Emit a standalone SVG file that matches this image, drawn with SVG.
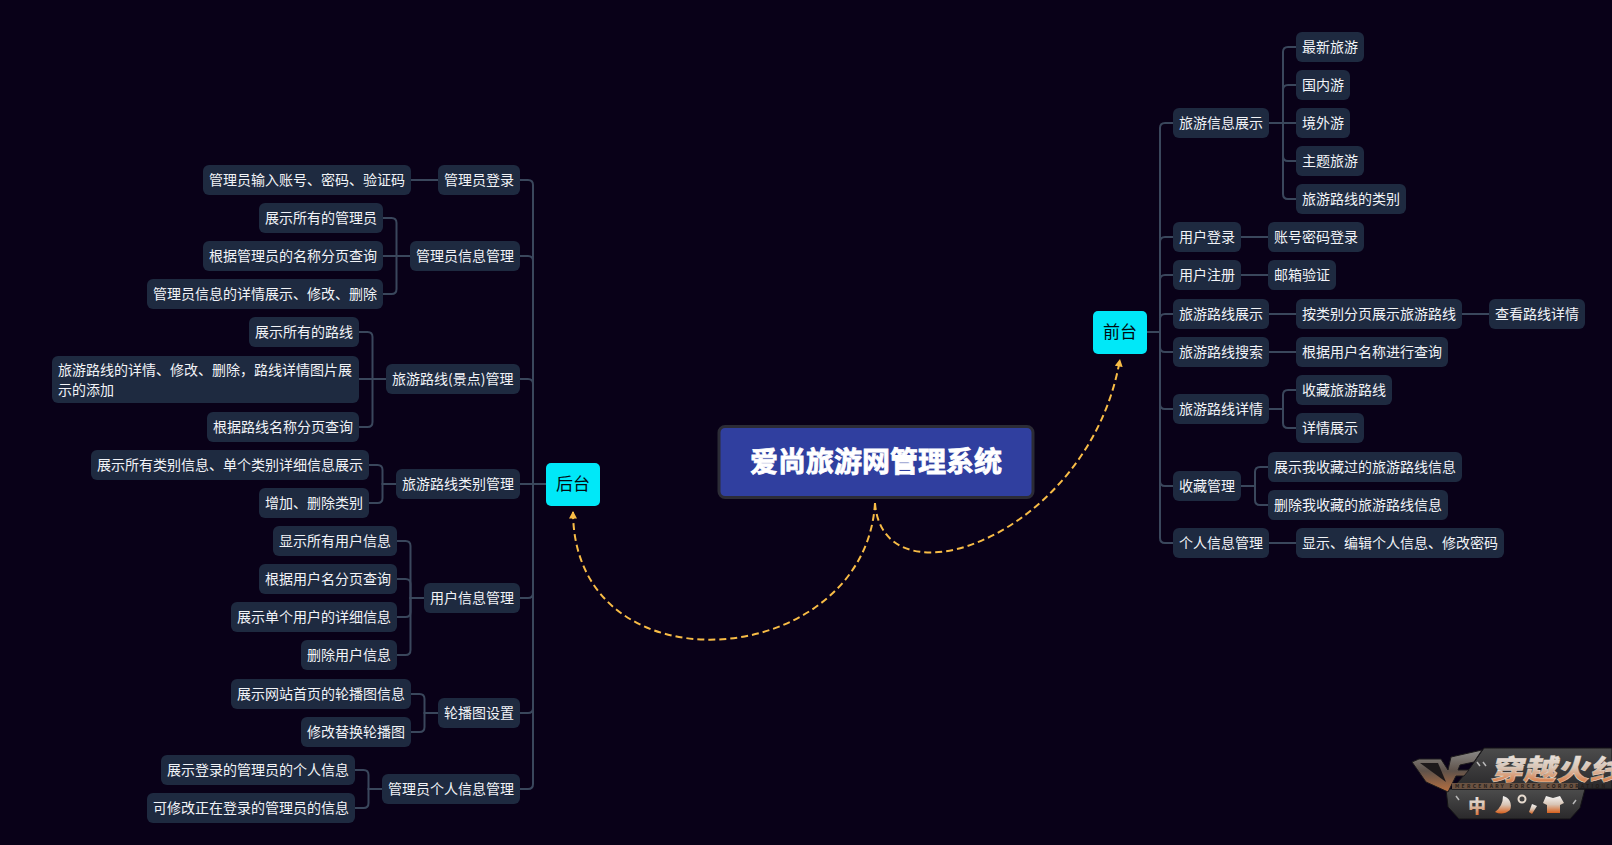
<svg xmlns="http://www.w3.org/2000/svg" width="1612" height="845" viewBox="0 0 1612 845">
<style>
text{font-family:"Noto Sans CJK SC","Microsoft YaHei","Liberation Sans",sans-serif;font-size:14px;fill:#f1f3f7}
.n rect{fill:#1e2a40}
.c path{fill:none;stroke:#3a475c;stroke-width:2}
.m rect{fill:#00e8f8}
.m text{font-size:17px;fill:#020a10}
.d{fill:none;stroke:#f8bc46;stroke-width:2;stroke-dasharray:7 4;marker-end:url(#ah)}
.q{fill:none;stroke:#b8b8b8;stroke-width:1.500}
</style>
<defs>
<marker id="ah" markerUnits="userSpaceOnUse" markerWidth="9" markerHeight="9" refX="7.5" refY="4" orient="auto"><path d="M0 0L7.5 4L0 8Z" fill="#f8bc46"/></marker>
<linearGradient id="pl" x1="0" y1="0" x2="0" y2="1"><stop offset="0" stop-color="#4c4c4c"/><stop offset="1" stop-color="#2a292b"/></linearGradient>
<linearGradient id="fi" x1="0" y1="0" x2="0" y2="1"><stop offset="0" stop-color="#f4f4f4"/><stop offset=".5" stop-color="#d8c4b4"/><stop offset="1" stop-color="#d8601c"/></linearGradient>
<linearGradient id="cf" x1="0" y1="0" x2="0" y2="1"><stop offset="0" stop-color="#8a8a88"/><stop offset=".5" stop-color="#5f524a"/><stop offset="1" stop-color="#b87040"/></linearGradient>
</defs>
<rect width="1612" height="845" fill="#090118"/>
<g class="c" id="connectors">
<path d="M1147 332H1160"/>
<path d="M1160 332V128Q1160 123 1165 123H1173"/>
<path d="M1160 332V242Q1160 237 1165 237H1173"/>
<path d="M1160 332V280Q1160 275 1165 275H1173"/>
<path d="M1160 332V319Q1160 314 1165 314H1173"/>
<path d="M1160 332V347Q1160 352 1165 352H1173"/>
<path d="M1160 332V404Q1160 409 1165 409H1173"/>
<path d="M1160 332V481Q1160 486 1165 486H1173"/>
<path d="M1160 332V538Q1160 543 1165 543H1173"/>
<path d="M1269 123H1283V52Q1283 47 1288 47H1296"/>
<path d="M1269 123H1283V90Q1283 85 1288 85H1296"/>
<path d="M1269 123H1296"/>
<path d="M1269 123H1283V156Q1283 161 1288 161H1296"/>
<path d="M1269 123H1283V194Q1283 199 1288 199H1296"/>
<path d="M1241 237H1268"/>
<path d="M1241 275H1268"/>
<path d="M1269 314H1296"/>
<path d="M1462 314H1489"/>
<path d="M1269 352H1296"/>
<path d="M1269 409H1283V395Q1283 390 1288 390H1296"/>
<path d="M1269 409H1283V423Q1283 428 1288 428H1296"/>
<path d="M1241 486H1255V472Q1255 467 1260 467H1268"/>
<path d="M1241 486H1255V500Q1255 505 1260 505H1268"/>
<path d="M1269 543H1296"/>
<path d="M546 484H533"/>
<path d="M533 484V185Q533 180 528 180H520"/>
<path d="M533 484V261Q533 256 528 256H520"/>
<path d="M533 484V384Q533 379 528 379H520"/>
<path d="M533 484H520"/>
<path d="M533 484V593Q533 598 528 598H520"/>
<path d="M533 484V708Q533 713 528 713H520"/>
<path d="M533 484V784Q533 789 528 789H520"/>
<path d="M438 180H411"/>
<path d="M410 256H396.500V223Q396.500 218 391.500 218H383"/>
<path d="M410 256H383"/>
<path d="M410 256H396.500V289Q396.500 294 391.500 294H383"/>
<path d="M386 379H372.500V337Q372.500 332 367.500 332H359"/>
<path d="M386 379H359"/>
<path d="M386 379H372.500V422Q372.500 427 367.500 427H359"/>
<path d="M396 484H382.500V470Q382.500 465 377.500 465H369"/>
<path d="M396 484H382.500V498Q382.500 503 377.500 503H369"/>
<path d="M424 598H410.500V546Q410.500 541 405.500 541H397"/>
<path d="M424 598H410.500V584Q410.500 579 405.500 579H397"/>
<path d="M424 598H410.500V612Q410.500 617 405.500 617H397"/>
<path d="M424 598H410.500V650Q410.500 655 405.500 655H397"/>
<path d="M438 713H424.500V699Q424.500 694 419.500 694H411"/>
<path d="M438 713H424.500V727Q424.500 732 419.500 732H411"/>
<path d="M382 789H368.500V775Q368.500 770 363.500 770H355"/>
<path d="M382 789H368.500V803Q368.500 808 363.500 808H355"/>
</g>
<g id="links">
<path class="d" d="M875 503C865 671 573 696 573 511"/>
<path class="d" d="M875 503C883 610 1090 535 1120 359"/>
</g>
<g id="root"><rect x="719" y="426.500" width="314" height="71" rx="6" fill="#303f9f" stroke="#2c2c36" stroke-width="3"/><text x="876" y="472" text-anchor="middle" style="font-size:28px;font-weight:700;fill:#fff;stroke:#fff;stroke-width:.8">爱尚旅游网管理系统</text></g>
<g id="qiantai" class="m"><rect x="1093" y="311" width="54" height="43" rx="5"/><text x="1120" y="338" text-anchor="middle">前台</text></g>
<g id="houtai" class="m"><rect x="546" y="463" width="54" height="43" rx="5"/><text x="573" y="490" text-anchor="middle">后台</text></g>
<g id="r1" class="n"><rect x="1173" y="108" width="96" height="30" rx="6"/><text x="1179" y="128">旅游信息展示</text></g>
<g id="r2" class="n"><rect x="1296" y="32" width="68" height="30" rx="6"/><text x="1302" y="52">最新旅游</text></g>
<g id="r3" class="n"><rect x="1296" y="70" width="54" height="30" rx="6"/><text x="1302" y="90">国内游</text></g>
<g id="r4" class="n"><rect x="1296" y="108" width="54" height="30" rx="6"/><text x="1302" y="128">境外游</text></g>
<g id="r5" class="n"><rect x="1296" y="146" width="68" height="30" rx="6"/><text x="1302" y="166">主题旅游</text></g>
<g id="r6" class="n"><rect x="1296" y="184" width="110" height="30" rx="6"/><text x="1302" y="204">旅游路线的类别</text></g>
<g id="r7" class="n"><rect x="1173" y="222" width="68" height="30" rx="6"/><text x="1179" y="242">用户登录</text></g>
<g id="r8" class="n"><rect x="1268" y="222" width="96" height="30" rx="6"/><text x="1274" y="242">账号密码登录</text></g>
<g id="r9" class="n"><rect x="1173" y="260" width="68" height="30" rx="6"/><text x="1179" y="280">用户注册</text></g>
<g id="r10" class="n"><rect x="1268" y="260" width="68" height="30" rx="6"/><text x="1274" y="280">邮箱验证</text></g>
<g id="r11" class="n"><rect x="1173" y="299" width="96" height="30" rx="6"/><text x="1179" y="319">旅游路线展示</text></g>
<g id="r12" class="n"><rect x="1296" y="299" width="166" height="30" rx="6"/><text x="1302" y="319">按类别分页展示旅游路线</text></g>
<g id="r13" class="n"><rect x="1489" y="299" width="96" height="30" rx="6"/><text x="1495" y="319">查看路线详情</text></g>
<g id="r14" class="n"><rect x="1173" y="337" width="96" height="30" rx="6"/><text x="1179" y="357">旅游路线搜索</text></g>
<g id="r15" class="n"><rect x="1296" y="337" width="152" height="30" rx="6"/><text x="1302" y="357">根据用户名称进行查询</text></g>
<g id="r16" class="n"><rect x="1173" y="394" width="96" height="30" rx="6"/><text x="1179" y="414">旅游路线详情</text></g>
<g id="r17" class="n"><rect x="1296" y="375" width="96" height="30" rx="6"/><text x="1302" y="395">收藏旅游路线</text></g>
<g id="r18" class="n"><rect x="1296" y="413" width="68" height="30" rx="6"/><text x="1302" y="433">详情展示</text></g>
<g id="r19" class="n"><rect x="1173" y="471" width="68" height="30" rx="6"/><text x="1179" y="491">收藏管理</text></g>
<g id="r20" class="n"><rect x="1268" y="452" width="194" height="30" rx="6"/><text x="1274" y="472">展示我收藏过的旅游路线信息</text></g>
<g id="r21" class="n"><rect x="1268" y="490" width="180" height="30" rx="6"/><text x="1274" y="510">删除我收藏的旅游路线信息</text></g>
<g id="r22" class="n"><rect x="1173" y="528" width="96" height="30" rx="6"/><text x="1179" y="548">个人信息管理</text></g>
<g id="r23" class="n"><rect x="1296" y="528" width="208" height="30" rx="6"/><text x="1302" y="548">显示、编辑个人信息、修改密码</text></g>
<g id="l1" class="n"><rect x="438" y="165" width="82" height="30" rx="6"/><text x="444" y="185">管理员登录</text></g>
<g id="l2" class="n"><rect x="203" y="165" width="208" height="30" rx="6"/><text x="209" y="185">管理员输入账号、密码、验证码</text></g>
<g id="l3" class="n"><rect x="410" y="241" width="110" height="30" rx="6"/><text x="416" y="261">管理员信息管理</text></g>
<g id="l4" class="n"><rect x="259" y="203" width="124" height="30" rx="6"/><text x="265" y="223">展示所有的管理员</text></g>
<g id="l5" class="n"><rect x="203" y="241" width="180" height="30" rx="6"/><text x="209" y="261">根据管理员的名称分页查询</text></g>
<g id="l6" class="n"><rect x="147" y="279" width="236" height="30" rx="6"/><text x="153" y="299">管理员信息的详情展示、修改、删除</text></g>
<g id="l7" class="n"><rect x="386" y="364" width="134" height="30" rx="6"/><text x="392" y="384">旅游路线(景点)管理</text></g>
<g id="l8" class="n"><rect x="249" y="317" width="110" height="30" rx="6"/><text x="255" y="337">展示所有的路线</text></g>
<g id="l9" class="n"><rect x="52" y="356" width="307" height="47" rx="6"/><text x="58" y="375">旅游路线的详情、修改、删除，路线详情图片展</text><text x="58" y="395">示的添加</text></g>
<g id="l10" class="n"><rect x="207" y="412" width="152" height="30" rx="6"/><text x="213" y="432">根据路线名称分页查询</text></g>
<g id="l11" class="n"><rect x="396" y="469" width="124" height="30" rx="6"/><text x="402" y="489">旅游路线类别管理</text></g>
<g id="l12" class="n"><rect x="91" y="450" width="278" height="30" rx="6"/><text x="97" y="470">展示所有类别信息、单个类别详细信息展示</text></g>
<g id="l13" class="n"><rect x="259" y="488" width="110" height="30" rx="6"/><text x="265" y="508">增加、删除类别</text></g>
<g id="l14" class="n"><rect x="424" y="583" width="96" height="30" rx="6"/><text x="430" y="603">用户信息管理</text></g>
<g id="l15" class="n"><rect x="273" y="526" width="124" height="30" rx="6"/><text x="279" y="546">显示所有用户信息</text></g>
<g id="l16" class="n"><rect x="259" y="564" width="138" height="30" rx="6"/><text x="265" y="584">根据用户名分页查询</text></g>
<g id="l17" class="n"><rect x="231" y="602" width="166" height="30" rx="6"/><text x="237" y="622">展示单个用户的详细信息</text></g>
<g id="l18" class="n"><rect x="301" y="640" width="96" height="30" rx="6"/><text x="307" y="660">删除用户信息</text></g>
<g id="l19" class="n"><rect x="438" y="698" width="82" height="30" rx="6"/><text x="444" y="718">轮播图设置</text></g>
<g id="l20" class="n"><rect x="231" y="679" width="180" height="30" rx="6"/><text x="237" y="699">展示网站首页的轮播图信息</text></g>
<g id="l21" class="n"><rect x="301" y="717" width="110" height="30" rx="6"/><text x="307" y="737">修改替换轮播图</text></g>
<g id="l22" class="n"><rect x="382" y="774" width="138" height="30" rx="6"/><text x="388" y="794">管理员个人信息管理</text></g>
<g id="l23" class="n"><rect x="161" y="755" width="194" height="30" rx="6"/><text x="167" y="775">展示登录的管理员的个人信息</text></g>
<g id="l24" class="n"><rect x="147" y="793" width="208" height="30" rx="6"/><text x="153" y="813">可修改正在登录的管理员的信息</text></g>
<g id="logo">
<path d="M1446 789H1585L1580 808L1570 819H1459L1448 807Z" fill="url(#pl)" stroke="#141316"/>
<path d="M1484 748H1612V789H1452L1470 768Z" fill="url(#pl)" stroke="#141316"/>
<path d="M1412 762L1419 759H1441L1448 770L1451 757L1482 750L1474 762L1460 765L1458 770H1469L1464 776H1456L1448 792L1426 782Z" fill="url(#cf)" stroke="#1c1a1c"/>
<path d="M1420 763H1438L1446 782Z" fill="#1d191b"/>
<path class="q" d="M1477 762L1480 766M1483 762L1486 766M1456 796L1459 800M1576 800L1573 804"/>
<text transform="translate(1490 780) scale(1 .86) skewX(-12)" style="font-size:33px;font-weight:900;fill:url(#fi);stroke:#e8e2dc;stroke-width:.4">穿越火线</text>
<rect x="1452" y="783" width="126" height="6" fill="#6a5242"/>
<text x="1455" y="788" style="font-size:5px;font-weight:700;letter-spacing:2.300px;fill:#241c18">MERCENARY FORCES CORPORATION</text>
<text x="1468" y="813" style="font-size:18px;font-weight:900;fill:url(#fi)">中</text>
<path d="M1503 796A10 10 0 0 1 1510 810Q1503 816 1495 812Q1503 806 1503 796Z" fill="url(#fi)"/>
<circle cx="1522" cy="799" r="3.500" fill="none" stroke="#e8dcd0" stroke-width="2"/>
<path d="M1532 804L1537 806L1532 814L1529 812Z" fill="url(#fi)"/>
<path d="M1546 796L1553 798L1560 796L1564 803L1560 805V813H1547V805L1543 803Z" fill="url(#fi)"/>
</g>
</svg>
